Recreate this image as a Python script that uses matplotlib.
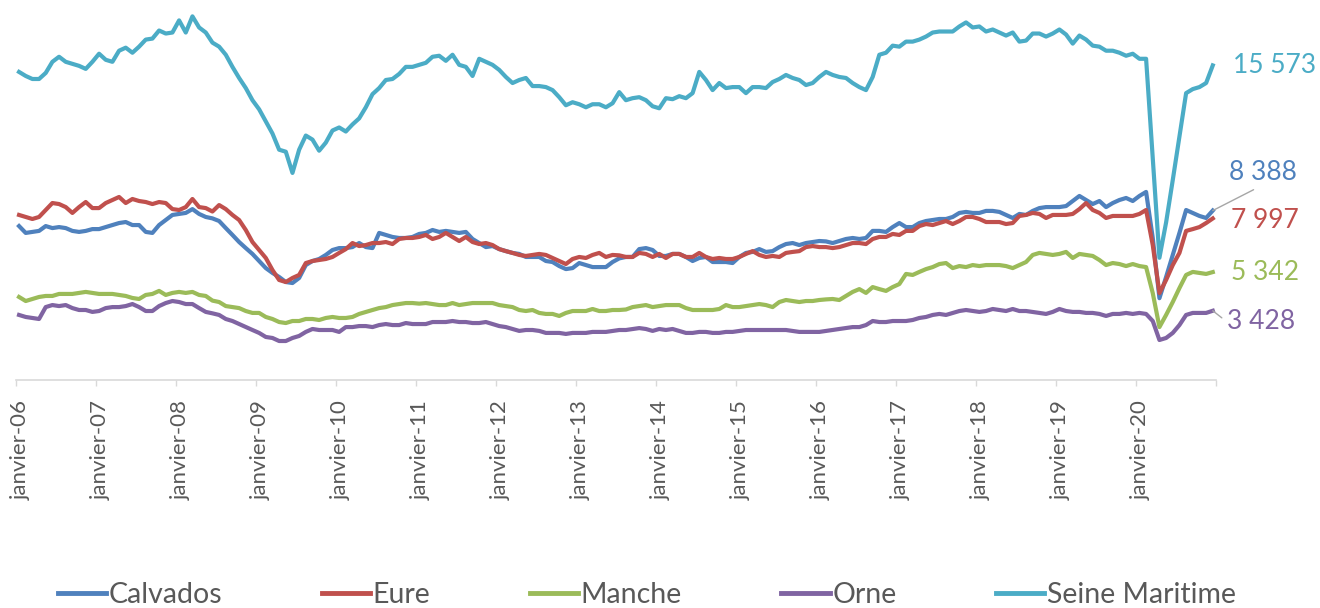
import matplotlib
matplotlib.use("Agg")
import matplotlib.pyplot as plt
import matplotlib.transforms as mtransforms
import numpy as np

plt.rcParams['font.family'] = ['Lato', 'DejaVu Sans']

# monthly values, janvier 2006 -> decembre 2020 (12 values per line)
calvados = [
    7620, 7280, 7330, 7380, 7620, 7520, 7570, 7520, 7380, 7330, 7380, 7470,
    7470, 7570, 7670, 7770, 7820, 7670, 7670, 7330, 7280, 7670, 7920, 8170,
    8220, 8270, 8460, 8220, 8070, 8000, 7870, 7520, 7180, 6830, 6530, 6240,
    5890, 5540, 5300, 5100, 4850, 4800, 5050, 5690, 5890, 5990, 6190, 6435,
    6530, 6530, 6580, 6780, 6580, 6530, 7280, 7180, 7080, 7030, 7030, 7080,
    7230, 7280, 7425, 7330, 7380, 7330, 7280, 7330, 6980, 6780, 6580, 6630,
    6480, 6380, 6290, 6240, 6090, 6090, 6090, 5890, 5840, 5640, 5490, 5540,
    5790, 5690, 5590, 5590, 5590, 5840, 6020, 6090, 6090, 6480, 6530, 6435,
    6140, 6140, 6240, 6240, 6090, 5890, 6040, 6090, 5840, 5840, 5840, 5790,
    6090, 6290, 6340, 6480, 6340, 6380, 6580, 6730, 6780, 6680, 6780, 6830,
    6880, 6860, 6780, 6880, 6980, 7030, 6980, 7030, 7380, 7380, 7330, 7570,
    7770, 7570, 7570, 7770, 7870, 7920, 7970, 7970, 8070, 8270, 8320, 8270,
    8270, 8370, 8370, 8320, 8170, 8020, 8220, 8170, 8370, 8510, 8560, 8560,
    8560, 8610, 8860, 9110, 8910, 8710, 8860, 8560, 8760, 8910, 9010, 8860,
    9110, 9310, 7030, 4050, 5100, 6190, 7280, 8415, 8270, 8120, 8020, 8388,
]
eure = [
    8170, 8070, 7970, 8070, 8415, 8760, 8710, 8560, 8270, 8560, 8810, 8510,
    8510, 8760, 8910, 9060, 8760, 8960, 8860, 8810, 8710, 8810, 8760, 8460,
    8415, 8560, 8960, 8560, 8510, 8340, 8660, 8460, 8170, 7920, 7425, 6830,
    6435, 6040, 5445, 4950, 4850, 5050, 5200, 5790, 5890, 5940, 5990, 6090,
    6290, 6480, 6780, 6630, 6680, 6780, 6780, 6830, 6730, 6980, 7030, 7030,
    7080, 7180, 6980, 7080, 7280, 7080, 6880, 7080, 6830, 6730, 6780, 6680,
    6480, 6380, 6290, 6190, 6140, 6190, 6240, 6190, 6040, 5890, 5740, 5990,
    6090, 6040, 6190, 6290, 6090, 6190, 6170, 6090, 6090, 6290, 6240, 6090,
    6240, 6040, 6240, 6240, 6090, 6090, 6290, 6090, 5990, 6040, 5990, 5990,
    6090, 6240, 6380, 6190, 6090, 6140, 6090, 6290, 6340, 6380, 6580, 6630,
    6580, 6580, 6530, 6580, 6680, 6780, 6780, 6730, 6980, 7080, 7080, 7230,
    7180, 7380, 7380, 7620, 7720, 7670, 7770, 7870, 7720, 7870, 8070, 8070,
    7970, 7820, 7820, 7820, 7720, 7770, 8120, 8170, 8270, 8220, 8020, 8170,
    8170, 8170, 8220, 8460, 8760, 8415, 8270, 8020, 8120, 8120, 8120, 8120,
    8220, 8415, 6680, 4300, 4950, 5690, 6290, 7380, 7470, 7570, 7770, 7997,
]
manche = [
    4110, 3910, 4010, 4110, 4160, 4160, 4260, 4260, 4260, 4310, 4360, 4310,
    4260, 4260, 4260, 4210, 4160, 4060, 4010, 4210, 4260, 4410, 4210, 4310,
    4360, 4310, 4360, 4210, 4160, 3930, 3860, 3660, 3610, 3560, 3415, 3320,
    3320, 3120, 3020, 2870, 2820, 2920, 2920, 3020, 3020, 2970, 3070, 3120,
    3070, 3070, 3120, 3270, 3370, 3465, 3560, 3610, 3710, 3760, 3810, 3810,
    3780, 3810, 3760, 3710, 3710, 3810, 3710, 3760, 3810, 3810, 3810, 3810,
    3710, 3660, 3610, 3465, 3415, 3465, 3320, 3270, 3270, 3170, 3320, 3415,
    3415, 3415, 3515, 3415, 3415, 3465, 3465, 3490, 3610, 3660, 3710, 3610,
    3660, 3710, 3710, 3710, 3560, 3465, 3465, 3465, 3465, 3515, 3710, 3610,
    3610, 3660, 3710, 3760, 3710, 3610, 3860, 3960, 3910, 3860, 3910, 3910,
    3960, 3990, 4010, 3960, 4160, 4360, 4500, 4310, 4600, 4500, 4410, 4600,
    4750, 5250, 5200, 5350, 5490, 5590, 5740, 5790, 5540, 5640, 5590, 5690,
    5640, 5690, 5690, 5690, 5640, 5540, 5690, 5840, 6190, 6290, 6240, 6190,
    6240, 6340, 6040, 6240, 6190, 6140, 5940, 5690, 5790, 5740, 5640, 5740,
    5640, 5590, 4300, 2620, 3220, 3860, 4550, 5200, 5350, 5300, 5250, 5342,
]
orne = [
    3220, 3120, 3070, 3020, 3610, 3710, 3660, 3710, 3560, 3465, 3465, 3370,
    3415, 3560, 3610, 3610, 3660, 3760, 3610, 3415, 3415, 3660, 3810, 3910,
    3860, 3760, 3760, 3560, 3370, 3300, 3220, 3020, 2920, 2770, 2620, 2475,
    2330, 2130, 2080, 1930, 1930, 2080, 2180, 2380, 2525, 2475, 2475, 2475,
    2380, 2620, 2620, 2670, 2670, 2620, 2720, 2770, 2720, 2720, 2820, 2770,
    2770, 2770, 2870, 2870, 2870, 2920, 2870, 2870, 2820, 2820, 2870, 2770,
    2670, 2620, 2525, 2430, 2475, 2475, 2430, 2330, 2330, 2330, 2280, 2330,
    2330, 2330, 2380, 2380, 2380, 2430, 2475, 2475, 2525, 2570, 2525, 2430,
    2525, 2475, 2525, 2430, 2330, 2330, 2380, 2380, 2330, 2330, 2380, 2380,
    2430, 2475, 2475, 2475, 2475, 2475, 2475, 2475, 2430, 2380, 2380, 2380,
    2380, 2430, 2475, 2525, 2570, 2620, 2620, 2720, 2920, 2870, 2870, 2920,
    2920, 2920, 2970, 3070, 3120, 3220, 3270, 3220, 3320, 3415, 3465, 3415,
    3370, 3415, 3515, 3465, 3415, 3515, 3415, 3415, 3370, 3320, 3270, 3370,
    3515, 3415, 3370, 3370, 3320, 3320, 3270, 3170, 3270, 3270, 3320, 3270,
    3320, 3270, 2920, 1980, 2080, 2330, 2720, 3220, 3320, 3320, 3320, 3428,
]
seine = [
    15250, 15050, 14900, 14900, 15200, 15750, 16000, 15750, 15650, 15550, 15400, 15750,
    16150, 15850, 15750, 16300, 16450, 16200, 16500, 16850, 16900, 17300, 17150, 17200,
    17800, 17200, 18000, 17450, 17200, 16700, 16500, 16100, 15500, 14950, 14450, 13850,
    13400, 12800, 12200, 11400, 11300, 10250, 11400, 12100, 11900, 11350, 11750, 12350,
    12500, 12300, 12650, 12950, 13500, 14150, 14450, 14850, 14900, 15150, 15500, 15500,
    15600, 15700, 16000, 16050, 15800, 16100, 15600, 15500, 15050, 15900, 15750, 15600,
    15350, 15000, 14700, 14850, 14950, 14550, 14550, 14500, 14350, 14000, 13600, 13750,
    13650, 13500, 13650, 13650, 13500, 13700, 14250, 13850, 13950, 14000, 13850, 13550,
    13450, 13950, 13900, 14050, 13950, 14200, 15250, 14850, 14350, 14700, 14450, 14500,
    14500, 14200, 14500, 14500, 14450, 14750, 14900, 15100, 14950, 14850, 14600, 14700,
    15000, 15250, 15100, 15000, 14950, 14700, 14500, 14350, 15000, 16100, 16200, 16550,
    16500, 16750, 16750, 16850, 17000, 17200, 17250, 17250, 17250, 17500, 17700, 17450,
    17500, 17250, 17350, 17200, 17050, 17200, 16750, 16800, 17150, 17150, 17000, 17150,
    17350, 17100, 16650, 17050, 16850, 16550, 16500, 16300, 16300, 16200, 16050, 16150,
    15900, 15900, 10950, 6050, 7800, 9900, 12050, 14200, 14400, 14500, 14700, 15573,
]

names = ['Calvados', 'Eure', 'Manche', 'Orne', 'Seine Maritime']
colors = ['#4F81BD', '#C0504D', '#9BBB59', '#8064A2', '#4BACC6']
end_labels = ['8 388', '7 997', '5 342', '3 428', '15 573']
years = ['janvier-%02d' % y for y in range(6, 21)]

series = [calvados, eure, manche, orne, seine]
x = np.arange(len(seine)) + 0.5

fig = plt.figure(figsize=(13.2, 6.08), dpi=100)
ax = fig.add_axes([0.0119, 0.375, 0.9094, 0.625])

for vals, name, c in zip(series, names, colors):
    ax.plot(x, vals, color=c, lw=3.0, label=name, solid_joinstyle='round')

ax.set_xlim(0, 180)
ax.set_ylim(0, 18810)
ax.set_yticks([])
for s in ['top', 'right', 'left']:
    ax.spines[s].set_visible(False)
ax.spines['bottom'].set_color('#D9D9D9')
ax.spines['bottom'].set_linewidth(1.2)

ax.set_xticks(np.arange(0, 181, 12))
ax.set_xticklabels(years + [''], rotation=90, fontsize=16, color='#595959')
ax.tick_params(axis='x', length=4.5, width=1, color='#D9D9D9', pad=10)
shift = mtransforms.ScaledTranslation(5 / 100, 0, fig.dpi_scale_trans)
for lab in ax.get_xticklabels():
    lab.set_transform(lab.get_transform() + shift)

# end-of-series labels
offsets = [(16, 38), (18, -2), (18, 0), (14, -11), (20, 0)]
for vals, lab, c, off, name in zip(series, end_labels, colors, offsets, names):
    kw = {}
    if name == 'Calvados':
        kw['arrowprops'] = dict(arrowstyle='-', color='#A6A6A6', lw=1, relpos=(0.5, 0), shrinkA=3, shrinkB=0)
    if name == 'Orne':
        kw['arrowprops'] = dict(arrowstyle='-', color='#A6A6A6', lw=1, relpos=(0, 0.5), shrinkA=2, shrinkB=0)
    ax.annotate(lab, xy=(x[-1], vals[-1]), xytext=off, textcoords='offset pixels',
                ha='left', va='center', fontsize=19, color=c, annotation_clip=False, **kw)

leg = fig.legend(loc='center', bbox_to_anchor=(0.49, 0.021), ncol=5, frameon=False,
                 fontsize=20.5, handlelength=1.7, handletextpad=0.08, columnspacing=3.5,
                 labelcolor='#595959')
for h in leg.get_lines():
    h.set_linewidth(3.5)

fig.savefig('out.png', dpi=100)
